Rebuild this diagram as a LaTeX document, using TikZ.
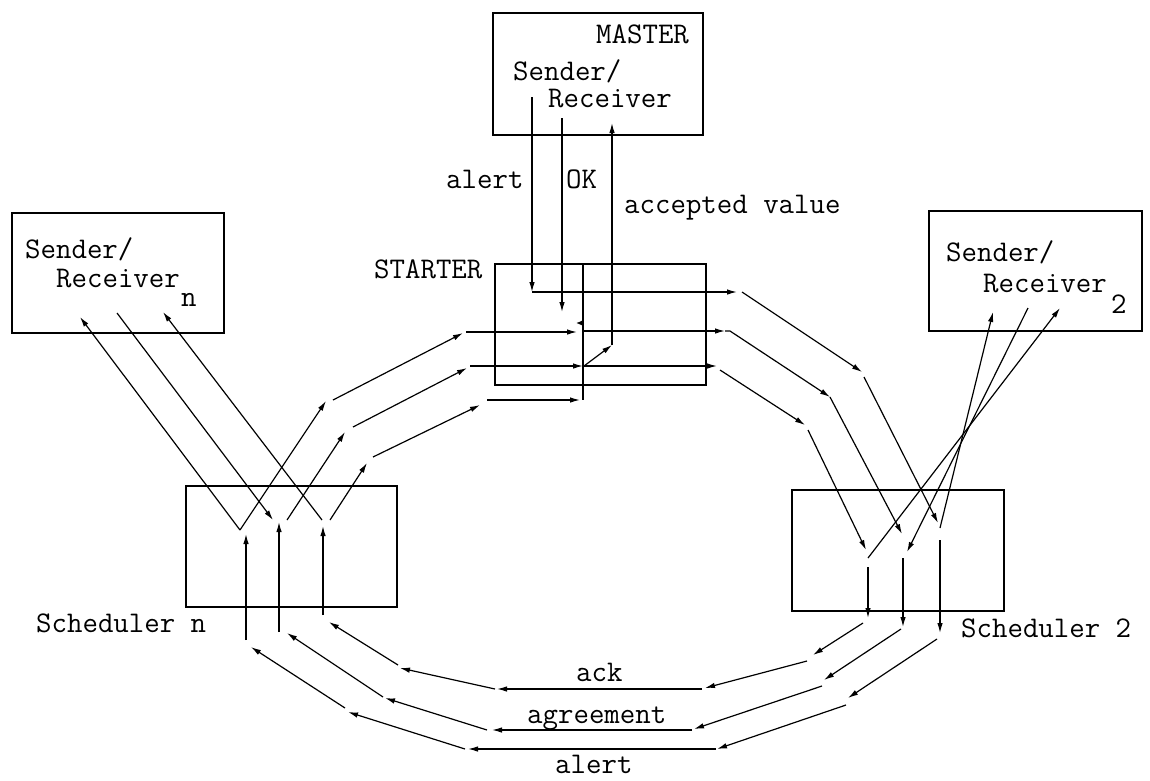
\documentclass[tikz,border=0pt]{standalone}
\usepackage{fontspec}
\usetikzlibrary{arrows.meta}
\begin{document}
\begin{tikzpicture}[x=1pt,y=-1pt,
  box/.style={draw, line width=1.3pt, inner sep=0, rectangle},
  txt/.style={inner sep=0, anchor=base west, font=\fontsize{30}{36}\selectfont\ttfamily},
  arr/.style={line width=1.2pt, -{Latex[length=10pt,width=5.5pt]}},
  ln/.style={line width=1.2pt},
  bar/.style={line width=2pt}]
\useasboundingbox (0,0) rectangle (1150,780);

% ---------- boxes ----------
\node[box, minimum width=210pt, minimum height=122pt] (master) at (598,74) {};
\node[box, minimum width=211pt, minimum height=121pt] (starter) at (600.5,324.5) {};
\node[box, minimum width=212pt, minimum height=120pt] (srn) at (118,273) {};
\node[box, minimum width=213pt, minimum height=120pt] (srtwo) at (1035.5,271) {};
\node[box, minimum width=211pt, minimum height=121pt] (schn) at (291.5,546.5) {};
\node[box, minimum width=212pt, minimum height=121pt] (schtwo) at (898,550.5) {};

% ---------- texts ----------
\node[txt] (tmaster) at (596,43) {MASTER};
\node[txt] (tmsend) at (513,80) {Sender/};
\node[txt] (tmrec) at (548,107) {Receiver};
\node[txt] (talert) at (446,188) {alert};
\node[txt] (tok) at (566,188) {OK};
\node[txt] (tacc) at (624,213) {accepted value};
\node[txt] (tstarter) at (374,278) {STARTER};
\node[txt] (tnsend) at (25,258) {Sender/};
\node[txt] (tnrec) at (56,287) {Receiver};
\node[txt] (tnsub) at (181,306) {n};
\node[txt] (ttsend) at (946,261) {Sender/};
\node[txt] (ttrec) at (983,292) {Receiver};
\node[txt] (ttsub) at (1111,313) {2};
\node[txt] (tschn) at (36,632) {Scheduler n};
\node[txt] (tschtwo) at (961,637) {Scheduler 2};
\node[txt] (tack) at (576,681) {ack};
\node[txt] (tagr) at (527,723) {agreement};
\node[txt] (talertb) at (555,773) {alert};

% ---------- coordinates: master / starter ----------
\coordinate (aT) at (532,97);
\coordinate (aC) at (532,292);
\coordinate (aE) at (737,292);
\coordinate (okT) at (562,118);
\coordinate (okB) at (562,312);
\coordinate (avS) at (584,366);
\coordinate (avK) at (612,345);
\coordinate (avT) at (612,123);
\coordinate (stT) at (583,265);
\coordinate (stB) at (583,400);
\coordinate (tk1) at (584,323);
\coordinate (tk2) at (576,323);

% outer ring
\coordinate (e1) at (742,292);
\coordinate (e2) at (862,372);
\coordinate (e3) at (864,377);
\coordinate (e4) at (938,523);
\coordinate (vtwoa) at (940,528);
\coordinate (srtwoa) at (993,312);
\coordinate (e5) at (940,540);
\coordinate (e6) at (940,633);
\coordinate (e7) at (937,639);
\coordinate (e8) at (848,698);
\coordinate (e9) at (846,705);
\coordinate (e10) at (717,749);
\coordinate (e11) at (716,749);
\coordinate (e12) at (468,749);
\coordinate (e13) at (465,749);
\coordinate (e14) at (348,712);
\coordinate (e15) at (345,708);
\coordinate (e16) at (251,647);
\coordinate (e17) at (246,640);
\coordinate (e18) at (246,534);
\coordinate (vna) at (240,530);
\coordinate (srna) at (80,317);
\coordinate (e19) at (326,401);
\coordinate (e20) at (333,400);
\coordinate (e21) at (463,333);
\coordinate (e22) at (466,332);
\coordinate (e23) at (577,332);

% middle ring
\coordinate (f1) at (583,331);
\coordinate (f2) at (725,331);
\coordinate (f2b) at (730,331);
\coordinate (f3) at (830,397);
\coordinate (f4) at (902,534);
\coordinate (srtwob) at (1028,308);
\coordinate (f5) at (907,552);
\coordinate (f6) at (903,558);
\coordinate (f7) at (903,627);
\coordinate (f8) at (901,629);
\coordinate (f9) at (824,680);
\coordinate (f10) at (822,686);
\coordinate (f11) at (694,729);
\coordinate (f11b) at (692,730);
\coordinate (f12) at (492,730);
\coordinate (f13) at (487,730);
\coordinate (f14) at (385,698);
\coordinate (f15) at (383,697);
\coordinate (f16) at (287,633);
\coordinate (f17) at (279,632);
\coordinate (f18) at (279,522);
\coordinate (srnb) at (117,313);
\coordinate (f19) at (273,520);
\coordinate (f20) at (287,520);
\coordinate (f21) at (345,432);
\coordinate (f22) at (353,427);
\coordinate (f23) at (467,368);
\coordinate (f24) at (470,366);
\coordinate (f25) at (583,366);

% inner ring
\coordinate (g1) at (583,366);
\coordinate (g2) at (717,366);
\coordinate (g3) at (720,370);
\coordinate (g4) at (805,425);
\coordinate (g5) at (808,430);
\coordinate (g6) at (866,550);
\coordinate (vtwoc) at (868,558);
\coordinate (srtwoc) at (1060,308);
\coordinate (g7) at (868,567);
\coordinate (g8) at (868,618);
\coordinate (g9) at (863,623);
\coordinate (g10) at (813,655);
\coordinate (g11) at (807,661);
\coordinate (g12) at (705,688);
\coordinate (g12b) at (702,689);
\coordinate (g13) at (497,689);
\coordinate (g14) at (495,689);
\coordinate (g15) at (400,668);
\coordinate (g16) at (398,665);
\coordinate (g17) at (329,622);
\coordinate (g18) at (323,615);
\coordinate (g19) at (323,526);
\coordinate (vnc) at (322,520);
\coordinate (srnc) at (163,312);
\coordinate (vncb) at (330,520);
\coordinate (g20) at (367,463);
\coordinate (g21) at (373,457);
\coordinate (g22) at (480,405);
\coordinate (g23) at (487,400);
\coordinate (g24) at (580,400);

% ---------- master / starter connectors ----------
\draw[bar] (stT) -- (stB);
\draw[arr] (aT) -- (aC);
\draw[arr] (aC) -- (aE);
\draw[arr] (okT) -- (okB);
\draw[arr] (avS) -- (avK);
\draw[arr] (avK) -- (avT);
\draw[-{Latex[length=6pt,width=5pt]}, line width=1.2pt] (tk1) -- (tk2);

% ---------- outer ring ----------
\draw[arr] (e1) -- (e2);
\draw[arr] (e3) -- (e4);
\draw[arr] (vtwoa) -- (srtwoa);
\draw[arr] (e5) -- (e6);
\draw[arr] (e7) -- (e8);
\draw[arr] (e9) -- (e10);
\draw[arr] (e11) -- (e12);
\draw[arr] (e13) -- (e14);
\draw[arr] (e15) -- (e16);
\draw[arr] (e17) -- (e18);
\draw[arr] (vna) -- (srna);
\draw[arr] (vna) -- (e19);
\draw[arr] (e20) -- (e21);
\draw[arr] (e22) -- (e23);

% ---------- middle ring ----------
\draw[arr] (f1) -- (f2);
\draw[arr] (f2) -- (f2b) -- (f3);
\draw[arr] (f3) -- (f4);
\draw[arr] (srtwob) -- (f5);
\draw[arr] (f6) -- (f7);
\draw[arr] (f8) -- (f9);
\draw[arr] (f10) -- (f11);
\draw[arr] (f11b) -- (f12);
\draw[arr] (f13) -- (f14);
\draw[arr] (f15) -- (f16);
\draw[arr] (f17) -- (f18);
\draw[arr] (srnb) -- (f19);
\draw[arr] (f20) -- (f21);
\draw[arr] (f22) -- (f23);
\draw[arr] (f24) -- (f25);

% ---------- inner ring ----------
\draw[arr] (g1) -- (g2);
\draw[arr] (g3) -- (g4);
\draw[arr] (g5) -- (g6);
\draw[arr] (vtwoc) -- (srtwoc);
\draw[arr] (g7) -- (g8);
\draw[arr] (g9) -- (g10);
\draw[arr] (g11) -- (g12);
\draw[arr] (g12b) -- (g13);
\draw[arr] (g14) -- (g15);
\draw[arr] (g16) -- (g17);
\draw[arr] (g18) -- (g19);
\draw[arr] (vnc) -- (srnc);
\draw[arr] (vncb) -- (g20);
\draw[arr] (g21) -- (g22);
\draw[arr] (g23) -- (g24);
\end{tikzpicture}
\end{document}
